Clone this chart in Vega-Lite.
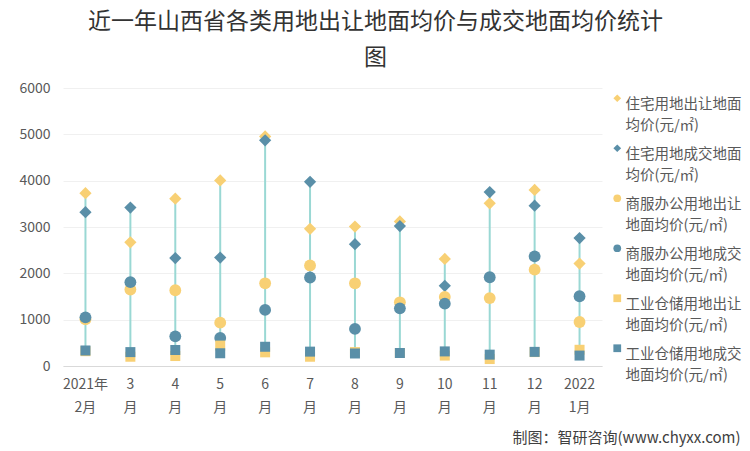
{
  "$schema": "https://vega.github.io/schema/vega-lite/v6.json",
  "autosize": "none",
  "width": 539,
  "height": 278,
  "padding": {"left": 63, "top": 88, "right": 148, "bottom": 85},
  "background": "white",
  "title": {
    "text": ["近一年山西省各类用地出让地面均价与成交地面均价统计", "图"],
    "font": "Noto Sans CJK SC",
    "fontSize": 23,
    "fontWeight": "normal",
    "color": "#333333",
    "lineHeight": 36,
    "anchor": "middle",
    "dx": 43,
    "offset": 11
  },
  "datasets": {
    "rows": [
      {"m": "2021年2月", "s": "住宅用地出让地面均价(元/㎡)", "v": 3730},
      {"m": "2021年2月", "s": "住宅用地成交地面均价(元/㎡)", "v": 3320},
      {"m": "2021年2月", "s": "商服办公用地出让地面均价(元/㎡)", "v": 1010},
      {"m": "2021年2月", "s": "商服办公用地成交地面均价(元/㎡)", "v": 1050},
      {"m": "2021年2月", "s": "工业仓储用地出让地面均价(元/㎡)", "v": 320},
      {"m": "2021年2月", "s": "工业仓储用地成交地面均价(元/㎡)", "v": 335},
      {"m": "3月", "s": "住宅用地出让地面均价(元/㎡)", "v": 2670},
      {"m": "3月", "s": "住宅用地成交地面均价(元/㎡)", "v": 3420},
      {"m": "3月", "s": "商服办公用地出让地面均价(元/㎡)", "v": 1650},
      {"m": "3月", "s": "商服办公用地成交地面均价(元/㎡)", "v": 1810},
      {"m": "3月", "s": "工业仓储用地出让地面均价(元/㎡)", "v": 200},
      {"m": "3月", "s": "工业仓储用地成交地面均价(元/㎡)", "v": 300},
      {"m": "4月", "s": "住宅用地出让地面均价(元/㎡)", "v": 3610},
      {"m": "4月", "s": "住宅用地成交地面均价(元/㎡)", "v": 2330},
      {"m": "4月", "s": "商服办公用地出让地面均价(元/㎡)", "v": 1635},
      {"m": "4月", "s": "商服办公用地成交地面均价(元/㎡)", "v": 640},
      {"m": "4月", "s": "工业仓储用地出让地面均价(元/㎡)", "v": 215},
      {"m": "4月", "s": "工业仓储用地成交地面均价(元/㎡)", "v": 345},
      {"m": "5月", "s": "住宅用地出让地面均价(元/㎡)", "v": 4005},
      {"m": "5月", "s": "住宅用地成交地面均价(元/㎡)", "v": 2340},
      {"m": "5月", "s": "商服办公用地出让地面均价(元/㎡)", "v": 935},
      {"m": "5月", "s": "商服办公用地成交地面均价(元/㎡)", "v": 605},
      {"m": "5月", "s": "工业仓储用地出让地面均价(元/㎡)", "v": 440},
      {"m": "5月", "s": "工业仓储用地成交地面均价(元/㎡)", "v": 275},
      {"m": "6月", "s": "住宅用地出让地面均价(元/㎡)", "v": 4955},
      {"m": "6月", "s": "住宅用地成交地面均价(元/㎡)", "v": 4870},
      {"m": "6月", "s": "商服办公用地出让地面均价(元/㎡)", "v": 1785},
      {"m": "6月", "s": "商服办公用地成交地面均价(元/㎡)", "v": 1210},
      {"m": "6月", "s": "工业仓储用地出让地面均价(元/㎡)", "v": 295},
      {"m": "6月", "s": "工业仓储用地成交地面均价(元/㎡)", "v": 415},
      {"m": "7月", "s": "住宅用地出让地面均价(元/㎡)", "v": 2960},
      {"m": "7月", "s": "住宅用地成交地面均价(元/㎡)", "v": 3975},
      {"m": "7月", "s": "商服办公用地出让地面均价(元/㎡)", "v": 2170},
      {"m": "7月", "s": "商服办公用地成交地面均价(元/㎡)", "v": 1910},
      {"m": "7月", "s": "工业仓储用地出让地面均价(元/㎡)", "v": 200},
      {"m": "7月", "s": "工业仓储用地成交地面均价(元/㎡)", "v": 310},
      {"m": "8月", "s": "住宅用地出让地面均价(元/㎡)", "v": 3010},
      {"m": "8月", "s": "住宅用地成交地面均价(元/㎡)", "v": 2630},
      {"m": "8月", "s": "商服办公用地出让地面均价(元/㎡)", "v": 1785},
      {"m": "8月", "s": "商服办公用地成交地面均价(元/㎡)", "v": 800},
      {"m": "8月", "s": "工业仓储用地出让地面均价(元/㎡)", "v": 300},
      {"m": "8月", "s": "工业仓储用地成交地面均价(元/㎡)", "v": 270},
      {"m": "9月", "s": "住宅用地出让地面均价(元/㎡)", "v": 3120},
      {"m": "9月", "s": "住宅用地成交地面均价(元/㎡)", "v": 3020},
      {"m": "9月", "s": "商服办公用地出让地面均价(元/㎡)", "v": 1375},
      {"m": "9月", "s": "商服办公用地成交地面均价(元/㎡)", "v": 1245},
      {"m": "9月", "s": "工业仓储用地出让地面均价(元/㎡)", "v": 280},
      {"m": "9月", "s": "工业仓储用地成交地面均价(元/㎡)", "v": 280},
      {"m": "10月", "s": "住宅用地出让地面均价(元/㎡)", "v": 2310},
      {"m": "10月", "s": "住宅用地成交地面均价(元/㎡)", "v": 1730},
      {"m": "10月", "s": "商服办公用地出让地面均价(元/㎡)", "v": 1490},
      {"m": "10月", "s": "商服办公用地成交地面均价(元/㎡)", "v": 1345},
      {"m": "10月", "s": "工业仓储用地出让地面均价(元/㎡)", "v": 225},
      {"m": "10月", "s": "工业仓储用地成交地面均价(元/㎡)", "v": 315},
      {"m": "11月", "s": "住宅用地出让地面均价(元/㎡)", "v": 3510},
      {"m": "11月", "s": "住宅用地成交地面均价(元/㎡)", "v": 3755},
      {"m": "11月", "s": "商服办公用地出让地面均价(元/㎡)", "v": 1465},
      {"m": "11月", "s": "商服办公用地成交地面均价(元/㎡)", "v": 1915},
      {"m": "11月", "s": "工业仓储用地出让地面均价(元/㎡)", "v": 150},
      {"m": "11月", "s": "工业仓储用地成交地面均价(元/㎡)", "v": 245},
      {"m": "12月", "s": "住宅用地出让地面均价(元/㎡)", "v": 3800},
      {"m": "12月", "s": "住宅用地成交地面均价(元/㎡)", "v": 3460},
      {"m": "12月", "s": "商服办公用地出让地面均价(元/㎡)", "v": 2080},
      {"m": "12月", "s": "商服办公用地成交地面均价(元/㎡)", "v": 2365},
      {"m": "12月", "s": "工业仓储用地出让地面均价(元/㎡)", "v": 300},
      {"m": "12月", "s": "工业仓储用地成交地面均价(元/㎡)", "v": 305},
      {"m": "2022年1月", "s": "住宅用地出让地面均价(元/㎡)", "v": 2210},
      {"m": "2022年1月", "s": "住宅用地成交地面均价(元/㎡)", "v": 2760},
      {"m": "2022年1月", "s": "商服办公用地出让地面均价(元/㎡)", "v": 950},
      {"m": "2022年1月", "s": "商服办公用地成交地面均价(元/㎡)", "v": 1505},
      {"m": "2022年1月", "s": "工业仓储用地出让地面均价(元/㎡)", "v": 350},
      {"m": "2022年1月", "s": "工业仓储用地成交地面均价(元/㎡)", "v": 225}
    ]
  },
  "data": {"name": "rows"},
  "encoding": {
    "x": {
      "field": "m",
      "type": "nominal",
      "sort": null,
      "scale": {"type": "band", "paddingInner": 0, "paddingOuter": 0},
      "axis": {
        "title": "制图：智研咨询(www.chyxx.com)",
        "titleAnchor": "end",
        "titleAlign": "right",
        "titleBaseline": "middle",
        "titleX": 677,
        "titleY": 71,
        "titleFont": "Noto Sans CJK SC",
        "titleFontSize": 15,
        "titleFontWeight": "normal",
        "titleColor": "#404040",
        "labelAngle": 0,
        "labelExpr": "datum.value == '2021年2月' ? ['2021年', '2月'] : datum.value == '2022年1月' ? ['2022', '1月'] : [replace(datum.value, '月', ''), '月']",
        "labelLineHeight": 23,
        "labelBaseline": "top",
        "labelPadding": 11,
        "labelFont": "Noto Sans CJK SC",
        "labelFontSize": 14,
        "labelColor": "#595959",
        "ticks": false,
        "domainColor": "#d9d9d9",
        "grid": false
      }
    },
    "y": {
      "field": "v",
      "type": "quantitative",
      "scale": {"domain": [0, 6000]},
      "axis": {
        "title": null,
        "format": "d",
        "values": [0, 1000, 2000, 3000, 4000, 5000, 6000],
        "labelFont": "Noto Sans CJK SC",
        "labelFontSize": 14,
        "labelColor": "#595959",
        "labelPadding": 13,
        "ticks": false,
        "domain": false,
        "gridColor": "#f0f0f0"
      }
    },
    "color": {
      "field": "s",
      "type": "nominal",
      "scale": {
        "domain": ["住宅用地出让地面均价(元/㎡)", "住宅用地成交地面均价(元/㎡)", "商服办公用地出让地面均价(元/㎡)", "商服办公用地成交地面均价(元/㎡)", "工业仓储用地出让地面均价(元/㎡)", "工业仓储用地成交地面均价(元/㎡)"],
        "range": ["#F8D074", "#5A8FA8", "#F8D074", "#5A8FA8", "#F8D074", "#5A8FA8"]
      },
      "legend": {
        "title": null,
        "orient": "right",
        "offset": 5,
        "padding": 3,
        "labelExpr": "[substring(datum.label, 0, 8), substring(datum.label, 8)]",
        "labelFont": "Noto Sans CJK SC",
        "labelFontSize": 14.5,
        "labelColor": "#595959",
        "labelLimit": 200,
        "labelBaseline": "top",
        "labelOffset": 1,
        "symbolSize": 60,
        "symbolStrokeWidth": 0,
        "rowPadding": 8
      }
    },
    "shape": {
      "field": "s",
      "type": "nominal",
      "scale": {
        "domain": ["住宅用地出让地面均价(元/㎡)", "住宅用地成交地面均价(元/㎡)", "商服办公用地出让地面均价(元/㎡)", "商服办公用地成交地面均价(元/㎡)", "工业仓储用地出让地面均价(元/㎡)", "工业仓储用地成交地面均价(元/㎡)"],
        "range": ["diamond", "diamond", "circle", "circle", "square", "square"]
      }
    }
  },
  "layer": [
    {
      "transform": [
        {"aggregate": [{"op": "min", "field": "v", "as": "lo"}, {"op": "max", "field": "v", "as": "hi"}], "groupby": ["m"]}
      ],
      "mark": {"type": "rule", "color": "#9AD8D4", "strokeWidth": 2},
      "encoding": {
        "y": {"field": "lo", "type": "quantitative"},
        "y2": {"field": "hi"},
        "color": null,
        "shape": null
      }
    },
    {
      "transform": [{"filter": "indexof(datum.s, '住宅') == 0"}],
      "mark": {"type": "point", "filled": true, "opacity": 1, "strokeWidth": 0, "size": 150}
    },
    {
      "transform": [{"filter": "indexof(datum.s, '商服') == 0"}],
      "mark": {"type": "point", "filled": true, "opacity": 1, "strokeWidth": 0, "size": 140}
    },
    {
      "transform": [{"filter": "indexof(datum.s, '工业') == 0"}],
      "mark": {"type": "point", "filled": true, "opacity": 1, "strokeWidth": 0, "size": 100}
    }
  ],
  "config": {
    "view": {"stroke": null},
    "style": {"guide-label": {"lineHeight": 21}}
  }
}
